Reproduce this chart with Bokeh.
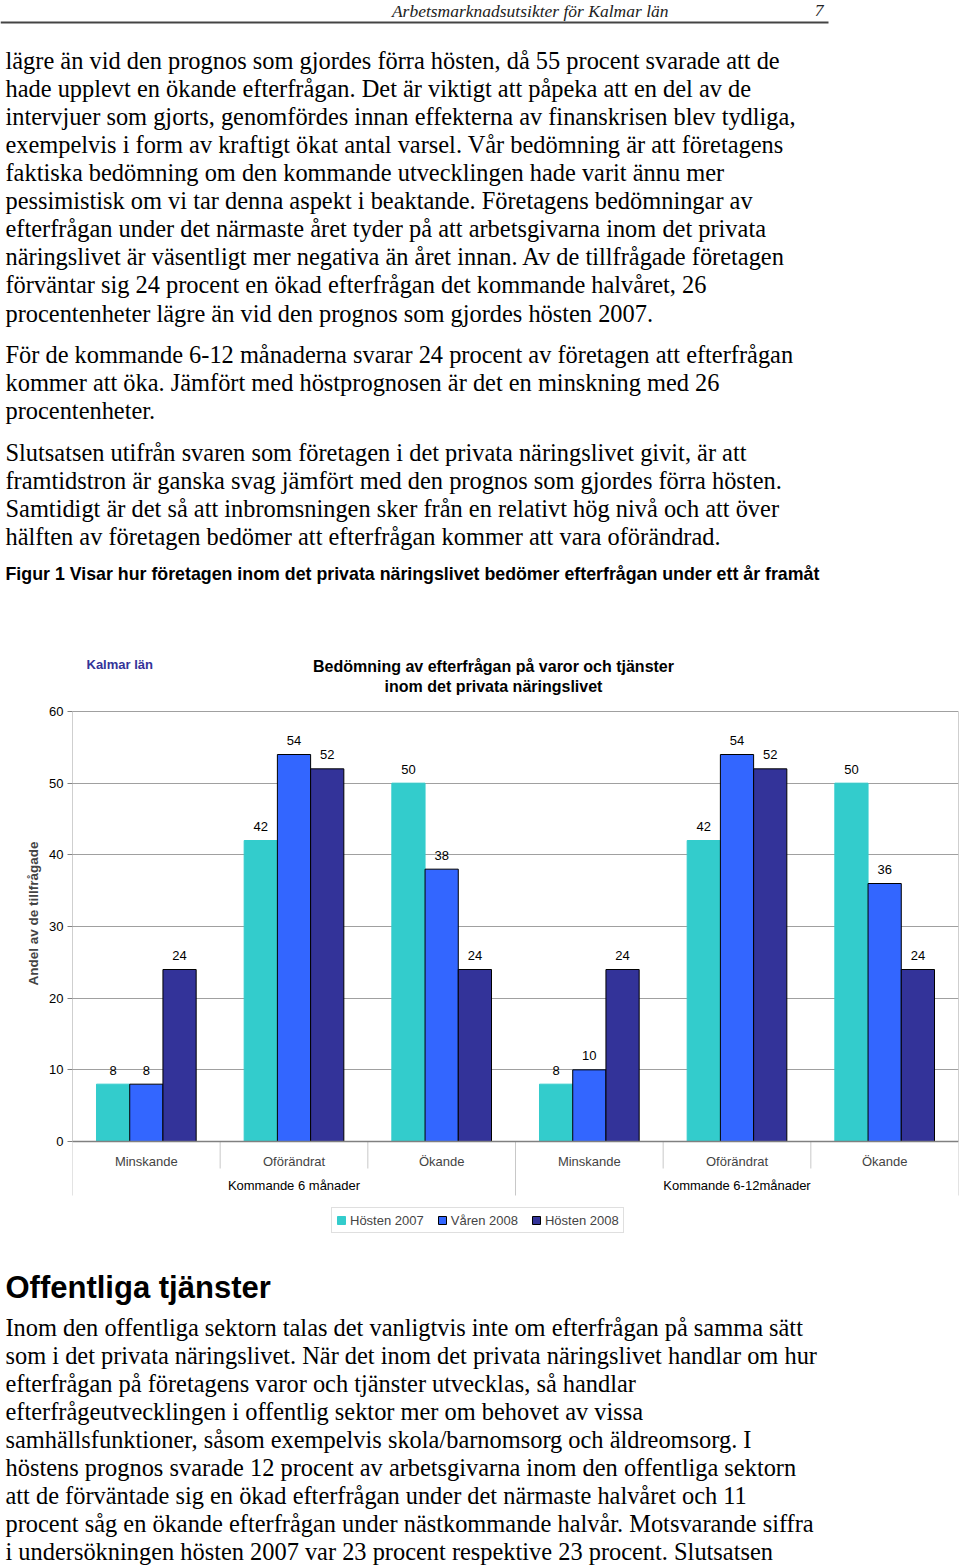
from bokeh.plotting import figure
from bokeh.models import (Range1d, FactorRange, FixedTicker, Legend, LegendItem,
                          Title, ColumnDataSource)
from bokeh.transform import dodge
from bokeh.layouts import column
from bokeh.core.properties import value
from bokeh.embed import file_html
from bokeh.resources import INLINE

# ---------------- data ----------------
groups = ["Kommande 6 månader", "Kommande 6-12månader"]
answers = ["Minskande", "Oförändrat", "Ökande"]
series_names = ["Hösten 2007", "Våren 2008", "Hösten 2008"]
hosten_2007 = [8, 42, 50, 8, 42, 50]
varen_2008 = [8, 54, 38, 10, 54, 36]
hosten_2008 = [24, 52, 24, 24, 52, 24]
y_ticks = [0, 10, 20, 30, 40, 50, 60]

header_title = "Arbetsmarknadsutsikter för Kalmar län"
page_number = "7"
top_lines = [
    "lägre än vid den prognos som gjordes förra hösten, då 55 procent svarade att de",
    "hade upplevt en ökande efterfrågan. Det är viktigt att påpeka att en del av de",
    "intervjuer som gjorts, genomfördes innan effekterna av finanskrisen blev tydliga,",
    "exempelvis i form av kraftigt ökat antal varsel. Vår bedömning är att företagens",
    "faktiska bedömning om den kommande utvecklingen hade varit ännu mer",
    "pessimistisk om vi tar denna aspekt i beaktande. Företagens bedömningar av",
    "efterfrågan under det närmaste året tyder på att arbetsgivarna inom det privata",
    "näringslivet är väsentligt mer negativa än året innan. Av de tillfrågade företagen",
    "förväntar sig 24 procent en ökad efterfrågan det kommande halvåret, 26",
    "procentenheter lägre än vid den prognos som gjordes hösten 2007.",
    "För de kommande 6-12 månaderna svarar 24 procent av företagen att efterfrågan",
    "kommer att öka. Jämfört med höstprognosen är det en minskning med 26",
    "procentenheter.",
    "Slutsatsen utifrån svaren som företagen i det privata näringslivet givit, är att",
    "framtidstron är ganska svag jämfört med den prognos som gjordes förra hösten.",
    "Samtidigt är det så att inbromsningen sker från en relativt hög nivå och att över",
    "hälften av företagen bedömer att efterfrågan kommer att vara oförändrad.",
]
top_line_y = [60, 88, 116, 144, 172, 200, 228, 256, 284, 313,
              354, 382, 410, 452, 480, 508, 536]
caption = ("Figur 1 Visar hur företagen inom det privata näringslivet bedömer "
           "efterfrågan under ett år framåt")
region_label = "Kalmar län"
chart_title = ["Bedömning av efterfrågan på varor och tjänster",
               "inom det privata näringslivet"]
y_axis_title = "Andel av de tillfrågade"
section_heading = "Offentliga tjänster"
bottom_lines = [
    "Inom den offentliga sektorn talas det vanligtvis inte om efterfrågan på samma sätt",
    "som i det privata näringslivet. När det inom det privata näringslivet handlar om hur",
    "efterfrågan på företagens varor och tjänster utvecklas, så handlar",
    "efterfrågeutvecklingen i offentlig sektor mer om behovet av vissa",
    "samhällsfunktioner, såsom exempelvis skola/barnomsorg och äldreomsorg. I",
    "höstens prognos svarade 12 procent av arbetsgivarna inom den offentliga sektorn",
    "att de förväntade sig en ökad efterfrågan under det närmaste halvåret och 11",
    "procent såg en ökande efterfrågan under nästkommande halvår. Motsvarande siffra",
    "i undersökningen hösten 2007 var 23 procent respektive 23 procent. Slutsatsen",
]
bottom_line_y = [1327, 1355, 1383, 1411, 1439, 1467, 1495, 1523, 1551]

SERIF = value("Liberation Serif")
SANS = value("Liberation Sans")
W = 960
BODY_SIZE = "24.4px"


def text_fig(y_top, y_bottom):
    f = figure(width=W, height=y_bottom - y_top, x_range=Range1d(0, W),
               y_range=Range1d(y_bottom, y_top), output_backend="svg",
               toolbar_location=None, x_axis_location=None, y_axis_location=None,
               min_border=0, frame_align=False)
    f.grid.visible = False
    f.outline_line_color = None
    return f


# ---------------- top text block ----------------
top = text_fig(0, 700)
top.text(x=[668], y=[10], text=[header_title], text_font=SERIF,
         text_font_size="17.5px", text_font_style="italic", text_align="right",
         text_baseline="middle", text_color="#222222")
top.text(x=[823], y=[10], text=[page_number], text_font=SERIF,
         text_font_size="17.5px", text_font_style="italic", text_align="right",
         text_baseline="middle", text_color="#222222")
top.segment(x0=[0], y0=[22], x1=[828], y1=[22], line_width=2, line_color="#444444")
top.text(x=[5] * len(top_lines), y=top_line_y, text=top_lines, text_font=SERIF,
         text_font_size=BODY_SIZE, text_baseline="middle", text_color="black")
top.text(x=[5], y=[573], text=[caption], text_font=SANS, text_font_size="17.8px",
         text_font_style="bold", text_baseline="middle", text_color="black")
top.text(x=[86], y=[664], text=[region_label], text_font=SANS, text_font_size="13px",
         text_font_style="bold", text_baseline="middle", text_color="#333399")
top.text(x=[493, 493], y=[666, 686], text=chart_title, text_font=SANS,
         text_font_size="16px", text_font_style="bold", text_align="center",
         text_baseline="middle", text_color="black")

# ---------------- chart ----------------
factors = [(g, a) for g in groups for a in answers]
src = ColumnDataSource(dict(
    x=factors, h07=hosten_2007, v08=varen_2008, h08=hosten_2008,
    h07_t=[str(v) for v in hosten_2007],
    v08_t=[str(v) for v in varen_2008],
    h08_t=[str(v) for v in hosten_2008],
))
xr = FactorRange(*factors, group_padding=0, factor_padding=0,
                 subgroup_padding=0, range_padding=0)
px_per_unit = 430 / 60.0
chart = figure(width=W, height=550, x_range=xr,
               y_range=Range1d(-(1245 - 1141) / px_per_unit, (1141 - 703) / px_per_unit),
               output_backend="svg", toolbar_location=None,
               min_border_left=72, min_border_right=2, min_border_top=3,
               min_border_bottom=5, frame_align=False)
chart.outline_line_color = None
chart.xgrid.visible = False
chart.ygrid.ticker = FixedTicker(ticks=y_ticks)
chart.ygrid.grid_line_color = "#a0a0a0"
chart.ygrid.grid_line_width = 1

# frame lines and category separators (synthetic factor coordinates)
n = len(factors)
sep_bottom_group = -(1195 - 1141) / px_per_unit
sep_bottom_inner = -(1168 - 1141) / px_per_unit
chart.segment(x0=[0, n], y0=[60, 60], x1=[0, n], y1=[0, 0],
              line_color="#a0a0a0", line_width=1)
chart.segment(x0=[0, 3, n], y0=[0, 0, 0], x1=[0, 3, n],
              y1=[sep_bottom_group] * 3, line_color="#c8c8c8", line_width=1)
chart.segment(x0=[1, 2, 4, 5], y0=[0] * 4, x1=[1, 2, 4, 5],
              y1=[sep_bottom_inner] * 4, line_color="#c8c8c8", line_width=1)

colors = ["#33CCCC", "#3366FF", "#333399"]
cols = ["h07", "v08", "h08"]
offsets = [-0.225, 0.0, 0.225]
line_cols = ["#33CCCC", "#000000", "#000000"]
renderers = []
for col, off, colr, lc in zip(cols, offsets, colors, line_cols):
    r = chart.vbar(x=dodge("x", off, range=xr), top=col, bottom=0, width=0.225,
                   source=src, fill_color=colr, line_color=lc, line_width=1)
    renderers.append(r)
    chart.text(x=dodge("x", off, range=xr), y=col, text=col + "_t", source=src,
               y_offset=-14, text_font=SANS, text_font_size="13px",
               text_align="center", text_baseline="middle", text_color="black")

xa = chart.xaxis[0]
xa.fixed_location = 0
xa.axis_line_color = "#808080"
xa.axis_line_width = 1.5
xa.major_tick_line_color = None
xa.major_label_text_font = "Liberation Sans"
xa.major_label_text_font_size = "13px"
xa.major_label_standoff = 6
xa.group_text_font = "Liberation Sans"
xa.group_text_font_size = "13px"
xa.group_text_font_style = "normal"
xa.group_text_color = "black"
xa.separator_line_color = None

ya = chart.yaxis[0]
ya.ticker = FixedTicker(ticks=y_ticks)
ya.axis_line_color = None
ya.major_tick_line_color = "#808080"
ya.major_tick_out = 5
ya.major_tick_in = 0
ya.minor_tick_line_color = None
ya.major_label_standoff = 4
ya.major_label_text_font = "Liberation Sans"
ya.major_label_text_font_size = "13px"
ya.major_label_text_color = "black"

chart.add_layout(Title(text=y_axis_title, align="left", offset=260,
                       text_font="Liberation Sans", text_font_size="13.5px",
                       text_font_style="bold", standoff=12), "left")

legend = Legend(items=[LegendItem(label=nm, renderers=[r])
                       for nm, r in zip(series_names, renderers)],
                orientation="horizontal", location=(259, 12),
                border_line_color="#c0c0c0", border_line_width=1,
                label_text_font="Liberation Sans", label_text_font_size="13px",
                glyph_width=10, glyph_height=10, label_height=16,
                label_standoff=4, spacing=13, padding=4, margin=0,
                background_fill_color="white", background_fill_alpha=1)
chart.add_layout(legend)

# ---------------- bottom text block ----------------
bottom = text_fig(1250, 1566)
bottom.text(x=[5], y=[1287], text=[section_heading], text_font=SANS,
            text_font_size="31px", text_font_style="bold", text_baseline="middle",
            text_color="black")
bottom.text(x=[5] * len(bottom_lines), y=bottom_line_y, text=bottom_lines,
            text_font=SERIF, text_font_size=BODY_SIZE, text_baseline="middle",
            text_color="black")

page = column(top, chart, bottom, spacing=0)
open("out.html", "w").write(file_html(page, INLINE))
